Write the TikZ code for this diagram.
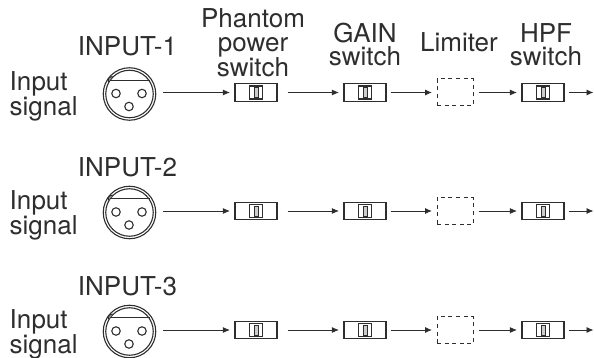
\documentclass[tikz,border=0pt]{standalone}
\usepackage{fontspec}
\setmainfont{TeX Gyre Heros}
\usetikzlibrary{arrows.meta}
\colorlet{ink}{black!82}
\tikzset{
 lbl/.style={font=\fontsize{26}{23.5}\selectfont,align=center,inner sep=0pt,text=ink},
 sidelbl/.style={font=\fontsize{26}{22}\selectfont,align=left,inner sep=0pt,text=ink,anchor=base west},
 swbox/.style={draw=ink,line width=1.1pt,minimum width=42pt,minimum height=17.5pt,inner sep=0pt,fill=white},
 swknob/.style={draw=ink,line width=1.1pt,minimum width=13pt,minimum height=13pt,inner sep=0pt},
 swslot/.style={draw=ink,line width=.8pt,fill=black!20,minimum width=4.5pt,minimum height=10pt,inner sep=0pt},
 limbox/.style={draw=ink,line width=1pt,dash pattern=on 4pt off 3.6pt,minimum width=36pt,minimum height=27pt,inner sep=0pt},
 xlrout/.style={circle,draw=ink,line width=1.1pt,minimum size=52.5pt,inner sep=0pt},
 xlrin/.style={circle,draw=ink,line width=1.1pt,minimum size=47.5pt,inner sep=0pt},
 pinhole/.style={circle,draw=ink,line width=1.1pt,minimum size=8.5pt,inner sep=0pt},
 sig/.style={-{Latex[length=7pt,width=6pt]},line width=.9pt,draw=ink,shorten >=4.5pt},
}
\begin{document}
\begin{tikzpicture}[x=1pt,y=-1pt]
\useasboundingbox (0,0) rectangle (594,358);
\foreach \r/\yy/\ty/\sy in {1/92.5/46/116,2/211/167/234.7,3/330/286/353.7}{
 \node[lbl] (in\r) at (127.5,\ty) {INPUT-\r};
 \node[sidelbl] (sg\r) at (9.5,\sy) {Input\\signal};
 \node[xlrout] (xo\r) at (129.5,\yy+1.5) {};
 \node[xlrin] (xi\r) at (129.5,\yy+1.5) {};
 \node[pinhole] (pa\r) at (116,\yy+1) {};
 \node[pinhole] (pb\r) at (142,\yy+1) {};
 \node[pinhole] (pc\r) at (129,\yy+14) {};
 \draw[ink,line width=1.1pt] (xi\r.146) -- (xi\r.34);
 \draw[ink,line width=1pt,fill=ink!50] (xi\r.150) .. controls (xo\r.142) .. (xi\r.134);
 \node[swbox] (s1\r) at (256,\yy) {};
 \node[swknob] at (256.3,\yy) {};
 \node[swslot] at (256.3,\yy) {};
 \node[swbox] (s2\r) at (365,\yy) {};
 \node[swknob] at (365.3,\yy) {};
 \node[swslot] at (365.3,\yy) {};
 \node[limbox] (lm\r) at (455,\yy) {};
 \node[swbox] (s3\r) at (543,\yy) {};
 \node[swknob] at (543.3,\yy) {};
 \node[swslot] at (543.3,\yy) {};
 \coordinate (en\r) at (598,\yy);
 \draw[sig,shorten <=7pt] (xo\r.east |- s1\r) -- (s1\r.west);
 \draw[sig,shorten <=10pt] (s1\r.east) -- (s2\r.west);
 \draw[sig,shorten <=4pt] (s2\r.east) -- (lm\r.west |- s2\r);
 \draw[sig,shorten <=5pt] (lm\r.east |- s2\r) -- (s3\r.west);
 \draw[sig,shorten <=4pt] (s3\r.east) -- (en\r);
}
\node[lbl,anchor=base] (ph) at (253,77) {Phantom\\power\\switch};
\node[lbl,anchor=base] (gn) at (365,65.7) {GAIN\\switch};
\node[lbl,anchor=base] (lt) at (459,52) {Limiter};
\node[lbl,anchor=base] (hp) at (546,65.7) {HPF\\switch};
\end{tikzpicture}
\end{document}
